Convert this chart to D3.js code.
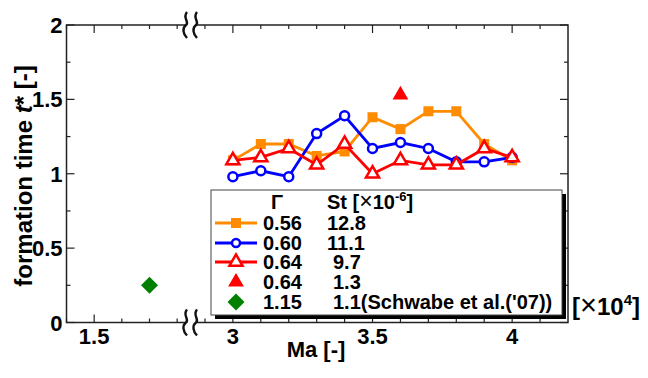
<!DOCTYPE html>
<html>
<head>
<meta charset="utf-8">
<script src="https://d3js.org/d3.v7.min.js"></script>
<style>
  body { margin: 0; background: #fff; }
  text { font-family: Arial, "Liberation Sans", sans-serif; font-weight: bold; }
</style>
</head>
<body>
<svg width="648" height="378"></svg>
<script>
    // data
    var ma = [3.0, 3.1, 3.2, 3.3, 3.4, 3.5, 3.6, 3.7, 3.8, 3.9, 4.0];
    var t056 = [1.09, 1.20, 1.20, 1.12, 1.15, 1.38, 1.30, 1.42, 1.42, 1.20, 1.09];
    var t060 = [0.98, 1.02, 0.98, 1.27, 1.39, 1.17, 1.21, 1.17, 1.08, 1.08, 1.11];
    var t064 = [1.09, 1.11, 1.17, 1.06, 1.20, 1.00, 1.09, 1.06, 1.06, 1.17, 1.11];
    var single064 = [[3.6, 1.53]];
    var schwabe = [[1.7, 0.25]];
    var yTicks = [0, 0.5, 1, 1.5, 2];
    var xTickLabels = [1.5, 3, 3.5, 4];
    var gammaLabels = ["0.56", "0.60", "0.64", "0.64", "1.15"];
    var stLabels = ["12.8", "11.1", "9.7", "1.3", "1.1(Schwabe et al.('07))"];

    var orange = "#ff8c00", blue = "#0000ff", red = "#ff0000", green = "#008000";

    var svg = d3.select("svg");
    var pLeft = 66.5, pRight = 568, pTop = 25, pBottom = 322.5;
    var breakX = 191;

    // broken x axis: 1.4-1.85 | 2.85-4.2
    var x = d3.scaleLinear()
        .domain([1.4, 1.85, 2.85, 4.2])
        .range([pLeft, breakX, breakX, pRight]);
    var y = d3.scaleLinear().domain([0, 2]).range([pBottom, pTop]);

    var g = svg.append("g");

    // frame
    g.append("rect")
        .attr("x", pLeft).attr("y", pTop)
        .attr("width", pRight - pLeft).attr("height", pBottom - pTop)
        .attr("fill", "none").attr("stroke", "#222").attr("stroke-width", 1.5);

    // ticks
    var minorX = d3.range(14, 19).map(function (d) { return d / 10; })
        .concat(d3.range(29, 42).map(function (d) { return d / 10; }));
    minorX.forEach(function (v) {
        var major = xTickLabels.indexOf(v) >= 0;
        var len = major ? 8 : 4;
        g.append("line").attr("x1", x(v)).attr("x2", x(v))
            .attr("y1", pBottom).attr("y2", pBottom - len)
            .attr("stroke", "#222").attr("stroke-width", 1.2);
        g.append("line").attr("x1", x(v)).attr("x2", x(v))
            .attr("y1", pTop).attr("y2", pTop + len)
            .attr("stroke", "#222").attr("stroke-width", 1.2);
    });
    d3.range(0, 9).map(function (d) { return d * 0.25; }).forEach(function (v) {
        var len = (v * 2) % 1 === 0 ? 8 : 4;
        g.append("line").attr("x1", pLeft).attr("x2", pLeft + len)
            .attr("y1", y(v)).attr("y2", y(v))
            .attr("stroke", "#222").attr("stroke-width", 1.2);
        g.append("line").attr("x1", pRight).attr("x2", pRight - len)
            .attr("y1", y(v)).attr("y2", y(v))
            .attr("stroke", "#222").attr("stroke-width", 1.2);
    });

    // tick labels
    g.selectAll(".yt").data(yTicks).enter().append("text")
        .attr("x", pLeft - 4).attr("y", function (d) { return y(d) + 8; })
        .attr("text-anchor", "end").attr("font-size", 22)
        .text(function (d) { return d; });
    g.selectAll(".xt").data(xTickLabels).enter().append("text")
        .attr("x", function (d) { return x(d); }).attr("y", 344)
        .attr("text-anchor", "middle").attr("font-size", 22)
        .text(function (d) { return d; });

    // axis break marks
    [pTop, pBottom].forEach(function (yy) {
        g.append("rect").attr("x", breakX - 6).attr("y", yy - 3)
            .attr("width", 12).attr("height", 6).attr("fill", "#fff");
        [-5, 5].forEach(function (dx) {
            var cx = breakX + dx;
            g.append("path")
                .attr("d", "M" + (cx + 1) + "," + (yy - 13) +
                    " C" + (cx - 4) + "," + (yy - 7) + " " + (cx + 4) + "," + (yy - 3) + " " + cx + "," + yy +
                    " S" + (cx - 3) + "," + (yy + 9) + " " + (cx + 1) + "," + (yy + 13))
                .attr("fill", "none").attr("stroke", "#111").attr("stroke-width", 2.4);
        });
    });

    // series
    var line = d3.line().x(function (d) { return x(d[0]); }).y(function (d) { return y(d[1]); });
    var tri = d3.symbol().type(d3.symbolTriangle).size(75);

    function pts(vals) { return ma.map(function (m, i) { return [m, vals[i]]; }); }

    // Gamma 0.56 orange squares
    var p1 = pts(t056);
    g.append("path").attr("d", line(p1)).attr("fill", "none").attr("stroke", orange).attr("stroke-width", 2.8);
    g.selectAll(".sq").data(p1).enter().append("rect")
        .attr("x", function (d) { return x(d[0]) - 5; }).attr("y", function (d) { return y(d[1]) - 5; })
        .attr("width", 10).attr("height", 10).attr("fill", orange);

    // Gamma 0.60 blue circles
    var p2 = pts(t060);
    g.append("path").attr("d", line(p2)).attr("fill", "none").attr("stroke", blue).attr("stroke-width", 2.8);
    g.selectAll(".ci").data(p2).enter().append("circle")
        .attr("cx", function (d) { return x(d[0]); }).attr("cy", function (d) { return y(d[1]); })
        .attr("r", 4.5).attr("fill", "#fff").attr("stroke", blue).attr("stroke-width", 2.5);

    // Gamma 0.64 red triangles
    var p3 = pts(t064);
    g.append("path").attr("d", line(p3)).attr("fill", "none").attr("stroke", red).attr("stroke-width", 2.8);
    g.selectAll(".tr").data(p3).enter().append("path")
        .attr("d", tri)
        .attr("transform", function (d) { return "translate(" + x(d[0]) + "," + y(d[1]) + ")"; })
        .attr("fill", "#fff").attr("stroke", red).attr("stroke-width", 2.5);

    // single filled red triangle
    g.selectAll(".tf").data(single064).enter().append("path")
        .attr("d", tri)
        .attr("transform", function (d) { return "translate(" + x(d[0]) + "," + y(d[1]) + ")"; })
        .attr("fill", red).attr("stroke", red).attr("stroke-width", 1.5);

    // Schwabe green diamond
    g.selectAll(".dm").data(schwabe).enter().append("rect")
        .attr("x", -6).attr("y", -6).attr("width", 12).attr("height", 12)
        .attr("transform", function (d) { return "translate(" + x(d[0]) + "," + y(d[1]) + ") rotate(45)"; })
        .attr("fill", green);

    // legend
    var lg = svg.append("g");
    var lx = 211, ly = 190, lw = 351, lh = 125;
    lg.append("rect").attr("x", lx + 4).attr("y", ly + 4).attr("width", lw).attr("height", lh).attr("fill", "#000");
    lg.append("rect").attr("x", lx).attr("y", ly).attr("width", lw).attr("height", lh)
        .attr("fill", "#fff").attr("stroke", "#444").attr("stroke-width", 1);

    lg.append("text").attr("x", 277).attr("y", 209).attr("text-anchor", "middle")
        .attr("font-size", 20).text("Γ");
    var st = lg.append("text").attr("x", 327).attr("y", 209).attr("font-size", 20);
    st.append("tspan").text("St [");
    st.append("tspan").attr("font-weight", "normal").attr("font-size", 23).text("×");
    st.append("tspan").text("10");
    st.append("tspan").attr("dy", -8).attr("font-size", 13).text("-6");
    st.append("tspan").attr("dy", 8).text("]");

    var rowY = [223, 243, 262, 282, 302];
    var colors = [orange, blue, red, red, green];
    var cxL = 236;
    rowY.forEach(function (ry, i) {
        if (i < 3) {
            lg.append("line").attr("x1", 215).attr("x2", 257).attr("y1", ry).attr("y2", ry)
                .attr("stroke", colors[i]).attr("stroke-width", 2.8);
        }
        if (i === 0) {
            lg.append("rect").attr("x", cxL - 5).attr("y", ry - 5).attr("width", 10).attr("height", 10).attr("fill", orange);
        } else if (i === 1) {
            lg.append("circle").attr("cx", cxL).attr("cy", ry).attr("r", 4)
                .attr("fill", "#fff").attr("stroke", blue).attr("stroke-width", 2.5);
        } else if (i === 2) {
            lg.append("path").attr("d", tri).attr("transform", "translate(" + cxL + "," + ry + ")")
                .attr("fill", "#fff").attr("stroke", red).attr("stroke-width", 2.5);
        } else if (i === 3) {
            lg.append("path").attr("d", tri).attr("transform", "translate(" + cxL + "," + ry + ")")
                .attr("fill", red).attr("stroke", red).attr("stroke-width", 1.5);
        } else {
            lg.append("rect").attr("x", -6).attr("y", -6).attr("width", 12).attr("height", 12)
                .attr("transform", "translate(" + cxL + "," + ry + ") rotate(45)").attr("fill", green);
        }
        lg.append("text").attr("x", 263).attr("y", ry + 7).attr("font-size", 20).text(gammaLabels[i]);
        lg.append("text").attr("x", i < 2 ? 327 : 333).attr("y", ry + 7).attr("font-size", 20).text(stLabels[i]);
    });

    // axis titles
    var yl = svg.append("text")
        .attr("transform", "translate(32,176) rotate(-90)")
        .attr("text-anchor", "middle").attr("font-size", 24);
    yl.append("tspan").text("formation time ");
    yl.append("tspan").attr("font-style", "italic").text("t");
    yl.append("tspan").text("* [-]");

    svg.append("text").attr("x", 316).attr("y", 357).attr("text-anchor", "middle")
        .attr("font-size", 22).text("Ma [-]");

    var xm = svg.append("text").attr("x", 572).attr("y", 315).attr("font-size", 24);
    xm.append("tspan").text("[");
    xm.append("tspan").attr("font-weight", "normal").attr("font-size", 29).text("×");
    xm.append("tspan").text("10");
    xm.append("tspan").attr("dy", -10).attr("font-size", 15).text("4");
    xm.append("tspan").attr("dy", 10).text("]");
</script>
</body>
</html>
